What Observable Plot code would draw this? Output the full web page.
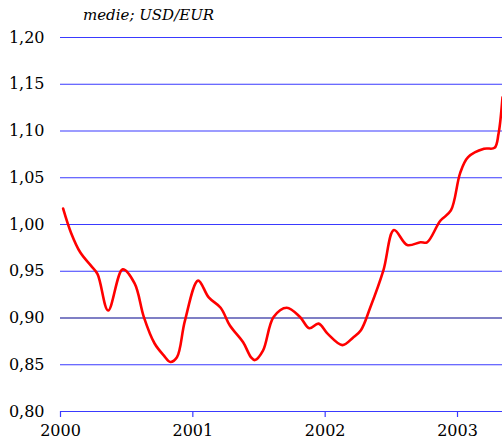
<!DOCTYPE html>
<html>
<head>
<meta charset="utf-8">
<script src="https://cdn.jsdelivr.net/npm/d3@7"></script>
<script src="https://cdn.jsdelivr.net/npm/@observablehq/plot@0.6"></script>
<style>
  body { margin: 0; background: #fff; }
  #title { height: 28px; font-family: "DejaVu Serif", serif; font-style: italic; font-size: 15px; padding-left: 83px; line-height: 30px; box-sizing: border-box; }
  #chart svg text { font-family: "DejaVu Serif", serif; }
</style>
</head>
<body>
<div id="title">medie; USD/EUR</div>
<div id="chart"></div>
<script>
const years = [2000.02, 2000.08, 2000.15, 2000.23, 2000.28, 2000.36, 2000.47, 2000.56, 2000.63, 2000.71, 2000.78, 2000.83, 2000.88, 2000.94, 2001.04, 2001.12, 2001.21, 2001.28, 2001.38, 2001.44, 2001.47, 2001.53, 2001.61, 2001.71, 2001.81, 2001.88, 2001.95, 2002.02, 2002.13, 2002.21, 2002.27, 2002.34, 2002.44, 2002.52, 2002.62, 2002.72, 2002.77, 2002.87, 2002.95, 2003.02, 2003.08, 2003.20, 2003.28, 2003.31, 2003.34];
const values = [1.017, 0.991, 0.970, 0.956, 0.947, 0.908, 0.952, 0.937, 0.901, 0.873, 0.860, 0.853, 0.858, 0.897, 0.940, 0.922, 0.911, 0.892, 0.874, 0.858, 0.855, 0.865, 0.901, 0.911, 0.901, 0.889, 0.894, 0.883, 0.871, 0.879, 0.887, 0.911, 0.951, 0.994, 0.978, 0.981, 0.981, 1.004, 1.015, 1.055, 1.072, 1.081, 1.082, 1.097, 1.136];
const yTicks = [0.80, 0.85, 0.90, 0.95, 1.00, 1.05, 1.10, 1.15, 1.20];
const xTicks = [2000, 2001, 2002, 2003];

const data = years.map((y, i) => ({year: y, value: values[i]}));
const serif = "'DejaVu Serif', serif";

const chart = Plot.plot({
  width: 502,
  height: 413,
  marginTop: 9,
  marginBottom: 30,
  marginLeft: 60,
  marginRight: 0,
  style: { fontFamily: serif, fontSize: "16px", color: "#000", background: "#fff" },
  x: { domain: [2000, 2003.34], ticks: xTicks, tickFormat: d => String(d) },
  y: { domain: [0.80, 1.20], ticks: yTicks, tickFormat: d => d.toFixed(2).replace(".", ",") },
  marks: [
    Plot.ruleY(yTicks, { stroke: d => Math.abs(d - 0.90) < 1e-9 ? "#00008b" : "#3a3aff", strokeWidth: 1.2 }),
    Plot.axisY({ ticks: yTicks, tickSize: 0, tickPadding: 16, fontSize: 16, tickFormat: d => d.toFixed(2).replace(".", ","), label: null }),
    Plot.axisX({ ticks: xTicks, tickSize: 6, tickPadding: 7, stroke: "#3a3aff", strokeWidth: 1.2, strokeOpacity: 1, fontSize: 16, tickFormat: d => String(d), label: null }),
    Plot.line(data, { x: "year", y: "value", stroke: "#ff0000", strokeWidth: 2.6, curve: "catmull-rom" })
  ]
});
document.getElementById("chart").appendChild(chart);
</script>
</body>
</html>
